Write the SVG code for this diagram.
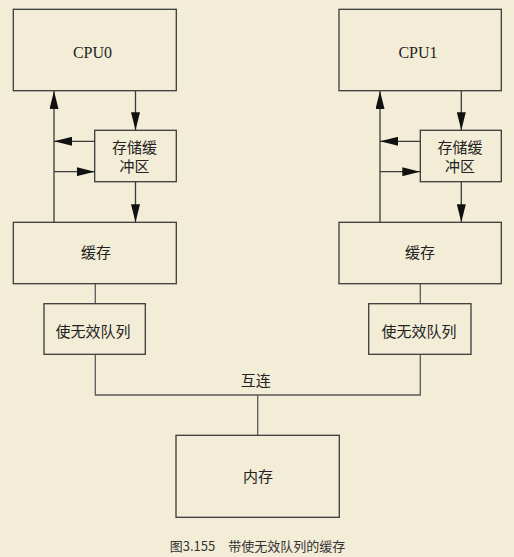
<svg xmlns="http://www.w3.org/2000/svg" width="514" height="557" viewBox="0 0 514 557">
<defs>
<marker id="ah" viewBox="0 0 18 9" refX="18" refY="4.5" markerWidth="18" markerHeight="9" markerUnits="userSpaceOnUse" orient="auto">
<path d="M0,0 L18,4.5 L0,9 Z" fill="#111"/>
</marker>
<style>
.box{fill:none;stroke:#3a3a3a;stroke-width:1.3}
.ln{fill:none;stroke:#5a5a5a;stroke-width:1.3}
.arr{fill:none;stroke:#3a3a3a;stroke-width:1.3;marker-end:url(#ah)}
.lat{font-family:"Liberation Serif","DejaVu Serif",serif;font-size:16px;fill:#222;text-anchor:middle}
.cjk{font-family:"Noto Sans CJK SC","Noto Sans CJK JP",sans-serif;font-size:15px;fill:#222;text-anchor:middle}
.cap{font-family:"Noto Sans CJK SC","Noto Sans CJK JP",sans-serif;font-size:13px;fill:#333;text-anchor:middle}
</style>
</defs>
<rect width="514" height="557" fill="#F3EDD7"/>
<g id="connectors">
<path class="arr" d="M54,222.3 L54,91"/>
<path class="arr" d="M135.5,91 L135.5,130.3"/>
<path class="arr" d="M94.7,141.3 L54,141.3"/>
<path class="arr" d="M54,171.7 L94.7,171.7"/>
<path class="arr" d="M135.5,181.7 L135.5,222.3"/>
<path class="ln" d="M95.3,283.7 L95.3,303.7"/>
<path class="arr" d="M380,222.3 L380,91"/>
<path class="arr" d="M461.3,91 L461.3,130.3"/>
<path class="arr" d="M420.3,141.3 L380,141.3"/>
<path class="arr" d="M380,171.7 L420.3,171.7"/>
<path class="arr" d="M461.3,181.7 L461.3,222.3"/>
<path class="ln" d="M420.3,283.7 L420.3,303.7"/>
<path class="ln" d="M95.3,354.3 L95.3,395 L420.3,395 L420.3,354.3"/>
<path class="ln" d="M257.7,395 L257.7,435.3"/>
</g>
<g id="cpu0"><rect class="box" x="13.3" y="9.3" width="163" height="81.4"/><text class="lat" x="92.5" y="58.3">CPU0</text></g>
<g id="sb0"><rect class="box" x="94.7" y="130.3" width="81.6" height="51.4"/><text class="cjk" x="134.5" y="153.4">存储缓</text><text class="cjk" x="134.5" y="172.4">冲区</text></g>
<g id="cache0"><rect class="box" x="13.3" y="222.3" width="163" height="61.4"/><text class="cjk" x="96" y="258">缓存</text></g>
<g id="iq0"><rect class="box" x="44" y="303.7" width="101.3" height="50.6"/><text class="cjk" x="93" y="336.7">使无效队列</text></g>
<g id="cpu1"><rect class="box" x="339" y="9.3" width="162.3" height="81.4"/><text class="lat" x="418" y="58.3">CPU1</text></g>
<g id="sb1"><rect class="box" x="420.3" y="130.3" width="81" height="51.4"/><text class="cjk" x="460" y="153.4">存储缓</text><text class="cjk" x="460" y="172.4">冲区</text></g>
<g id="cache1"><rect class="box" x="339" y="222.3" width="162.3" height="61.4"/><text class="cjk" x="420" y="258">缓存</text></g>
<g id="iq1"><rect class="box" x="368.7" y="303.7" width="102.3" height="50.6"/><text class="cjk" x="419" y="336.7">使无效队列</text></g>
<g id="interconnect"><text class="cjk" x="255.8" y="385.7">互连</text></g>
<g id="memory"><rect class="box" x="176" y="435.3" width="163.3" height="82"/><text class="cjk" x="258" y="482.4">内存</text></g>
<text class="cap" x="257.5" y="550.6">图3.155　带使无效队列的缓存</text>
</svg>
